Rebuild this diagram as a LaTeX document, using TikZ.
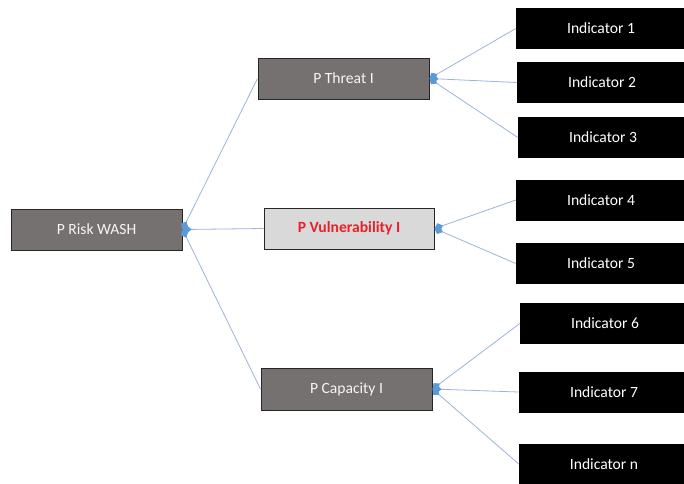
\documentclass[tikz,border=0pt]{standalone}
\usepackage{fontspec}
\setmainfont{Carlito}
\usetikzlibrary{arrows.meta}
\definecolor{boxgray}{HTML}{767171}
\definecolor{boxedge}{HTML}{262626}
\definecolor{lightbox}{HTML}{D9D9D9}
\definecolor{linkblue}{HTML}{9DB3D9}
\definecolor{tipblue}{HTML}{5B9BD5}
\definecolor{alertred}{HTML}{E8202A}
\begin{document}
\begin{tikzpicture}[x=1pt,y=-1pt,
  every node/.style={font=\fontsize{15.6}{18}\selectfont, inner sep=0pt},
  levelbox/.style={draw=boxedge, line width=1pt, fill=boxgray, text=white!92!gray,
    minimum width=171pt, minimum height=41pt},
  focusbox/.style={levelbox, fill=lightbox, text=alertred, font=\fontsize{15.6}{18}\selectfont\bfseries},
  indbox/.style={fill=black, text=white, minimum width=170pt, minimum height=41pt},
  link/.style={draw=linkblue, line width=0.8pt,
    -{Diamond[length=9pt,width=8pt,color=tipblue,fill=tipblue]}}]
\useasboundingbox (0,0) rectangle (684,483);
\clip (0,0) rectangle (684,483);

% main risk node
\node[levelbox] (risk) at (96.5,229.5) {P Risk WASH};

% component nodes
\node[levelbox] (threat) at (343.5,78.5) {P Threat I};
\node[focusbox, minimum width=170pt] (vuln) at (349,228.5) {P Vulnerability I};
\node[levelbox, minimum height=42pt] (cap) at (346.5,389) {P Capacity I};

% indicators
\node[indbox] (i1) at (601,28.5) {Indicator 1};
\node[indbox] (i2) at (602,82.5) {Indicator 2};
\node[indbox] (i3) at (603,137.5) {Indicator 3};
\node[indbox] (i4) at (601,200) {Indicator 4};
\node[indbox] (i5) at (601,263.5) {Indicator 5};
\node[indbox] (i6) at (605,323.5) {Indicator 6};
\node[indbox] (i7) at (604,392) {Indicator 7};
\node[indbox] (in) at (604,464) {Indicator n};

% connectors
\foreach \c in {threat,vuln,cap} \draw[link] (\c.west) -- (risk.east);
\foreach \c in {i1,i2,i3} \draw[link] (\c.west) -- (threat.east);
\foreach \c in {i4,i5} \draw[link] (\c.west) -- (vuln.east);
\foreach \c in {i6,i7,in} \draw[link] (\c.west) -- (cap.east);
\end{tikzpicture}
\end{document}
